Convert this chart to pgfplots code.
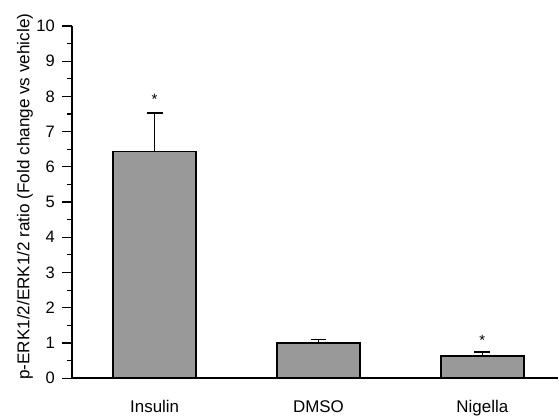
\documentclass[border=0pt]{standalone}
\usepackage{pgfplots}
\pgfplotsset{compat=1.18}
\usepackage{fontspec}
\setmainfont{Liberation Sans}
\definecolor{barfill}{RGB}{153,153,153}
\begin{document}
\begin{tikzpicture}
\begin{axis}[
  scale only axis,
  width=487bp, height=352.7bp,
  xmin=-0.505, xmax=2.463,
  ymin=0, ymax=10,
  axis lines*=left,
  axis line style={line width=1.6bp, black},
  xtick={0,1,2},
  xticklabels={Insulin,DMSO,Nigella},
  major x tick style={draw=none},
  ytick={0,1,...,10},
  minor y tick num=1,
  tick align=outside,
  major tick length=10bp,
  minor tick length=5bp,
  major y tick style={line width=1.2bp, black},
  minor y tick style={line width=1.2bp, black},
  /pgf/number format/assume math mode=true,
  yticklabel style={font=\fontsize{16.6}{18}\selectfont, inner sep=0pt, xshift=-7bp},
  xticklabel style={font=\fontsize{17}{19}\selectfont, inner sep=0pt, anchor=north, yshift=-12.3bp},
  ylabel={p-ERK1/2/ERK1/2 ratio (Fold change vs vehicle)},
  ylabel style={font=\fontsize{17.2}{19}\selectfont, at={(axis description cs:-0.0965,0.515)}, anchor=center, rotate=0},
  clip=false,
]
\addplot[ybar, bar width=0.506, fill=barfill, draw=black, line width=1.5bp,
  error bars/.cd, y dir=plus, y explicit,
  error bar style={line width=1.5bp, black},
  error mark options={rotate=90, mark size=8bp, line width=1.5bp}]
  coordinates {(0,6.43) +- (0,1.10) (1,1.00) +- (0,0.10) (2,0.625) +- (0,0.115)};
\addplot[draw=none, mark=none, nodes near coords, point meta=explicit symbolic,
  every node near coord/.append style={anchor=base, inner sep=0pt, yshift=0pt, font=\fontsize{15}{17}\selectfont}]
  coordinates {(0,7.78) [*] (2,0.94) [*]};
\end{axis}
\path (current axis.south west) ++(-72bp,-38.3bp) coordinate (bbsw);
\path (current axis.north east) ++(0bp,26bp) coordinate (bbne);
\path (bbsw) rectangle (bbne);
\end{tikzpicture}
\end{document}
